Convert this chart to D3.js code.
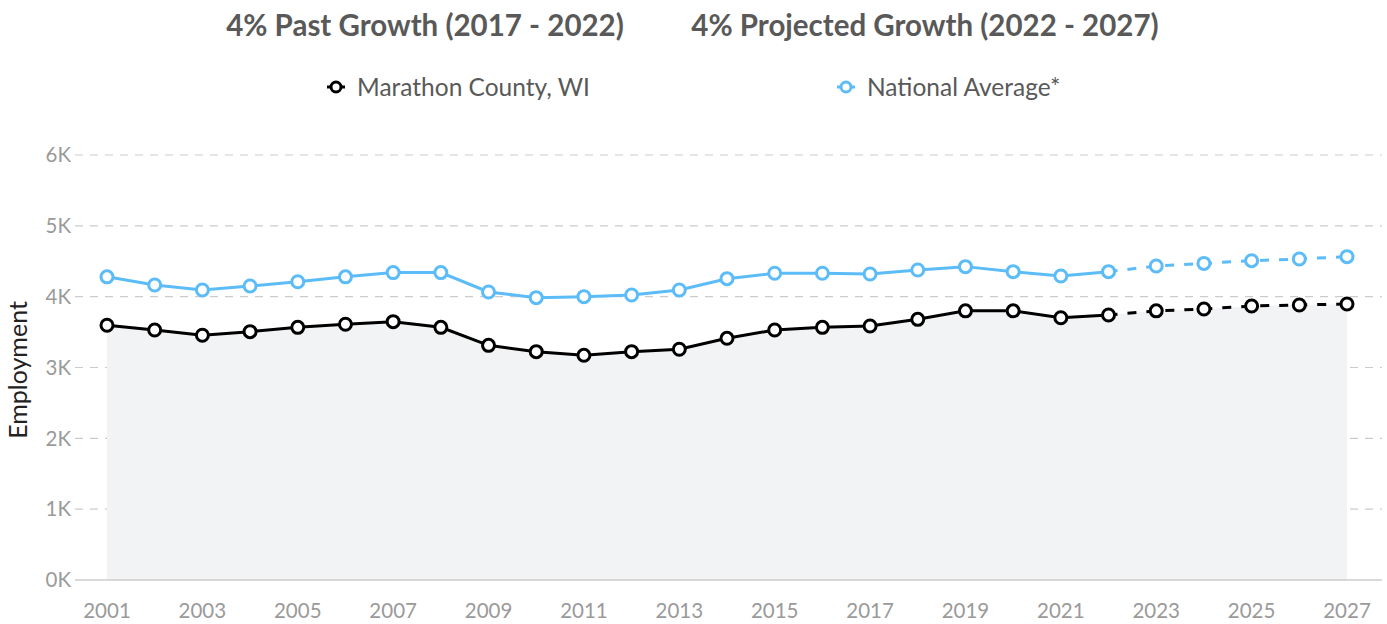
<!DOCTYPE html>
<html>
<head>
<meta charset="utf-8">
<script src="https://cdn.jsdelivr.net/npm/d3@7"></script>
<style>
  body { margin: 0; background: #fff; }
  #chart { width: 1387px; height: 624px; }
  text { font-family: Lato, "Open Sans", sans-serif; }
</style>
</head>
<body>
<div id="chart"></div>
<script>
// data
const years = d3.range(2001, 2028);
const lastActual = 2022;
const countyValues = [3596, 3530, 3455, 3506, 3567, 3610, 3647, 3567, 3313, 3224, 3172, 3224, 3257, 3412,
  3530, 3567, 3586, 3680, 3800, 3800, 3703, 3741, 3800, 3826, 3868, 3883, 3897];
const nationalValues = [4280, 4165, 4094, 4150, 4210, 4280, 4340, 4340, 4066, 3986, 4000, 4024, 4094, 4254,
  4330, 4330, 4320, 4377, 4424, 4353, 4292, 4353, 4433, 4470, 4508, 4532, 4565];
const yTicks = [0, 1000, 2000, 3000, 4000, 5000, 6000];
const xTicks = d3.range(2001, 2028, 2);
const titles = ["4% Past Growth (2017 - 2022)", "4% Projected Growth (2022 - 2027)"];
const seriesNames = ["Marathon County, WI", "National Average*"];

const width = 1387, height = 624;
const svg = d3.select("#chart").append("svg")
  .attr("width", width)
  .attr("height", height);

const x = d3.scaleLinear().domain([2001, 2027]).range([107, 1347]);
const y = d3.scaleLinear().domain([0, 6000]).range([580, 155]);

// titles
svg.selectAll(".title")
  .data(titles)
  .enter().append("text")
  .attr("x", (d, i) => i === 0 ? 425 : 925)
  .attr("y", 36)
  .attr("text-anchor", "middle")
  .attr("font-size", 29.5)
  .attr("font-weight", "bold")
  .attr("fill", "#595959")
  .text(d => d);

// legend
const colors = ["#000000", "#5cbcf8"];
const legend = svg.selectAll(".legend")
  .data(seriesNames)
  .enter().append("g")
  .attr("transform", (d, i) => `translate(${i === 0 ? 336 : 846}, 87)`);
legend.append("line")
  .attr("x1", -9).attr("x2", 9)
  .attr("stroke", (d, i) => colors[i])
  .attr("stroke-width", 3);
legend.append("circle")
  .attr("r", 5)
  .attr("fill", "#fff")
  .attr("stroke", (d, i) => colors[i])
  .attr("stroke-width", 3);
legend.append("text")
  .attr("x", 21)
  .attr("dy", "0.35em")
  .attr("font-size", 24.5)
  .attr("fill", "#595959")
  .text(d => d);

// grid
svg.selectAll(".grid")
  .data(yTicks.filter(d => d > 0))
  .enter().append("line")
  .attr("x1", 75).attr("x2", 1382)
  .attr("y1", d => y(d)).attr("y2", d => y(d))
  .attr("stroke", "#cccccc")
  .attr("stroke-width", 1.2)
  .attr("stroke-dasharray", "8,7");

// area under county line
const countyData = years.map((yr, i) => ({ year: yr, value: countyValues[i] }));
const nationalData = years.map((yr, i) => ({ year: yr, value: nationalValues[i] }));

svg.append("path")
  .datum(countyData)
  .attr("fill", "#f2f3f5")
  .attr("d", d3.area().x(d => x(d.year)).y0(y(0)).y1(d => y(d.value)));

svg.append("line")
  .attr("x1", 75).attr("x2", 1382)
  .attr("y1", y(0)).attr("y2", y(0))
  .attr("stroke", "#cccccc")
  .attr("stroke-width", 1.5);

// axis labels
svg.selectAll(".ylab")
  .data(yTicks)
  .enter().append("text")
  .attr("x", 71)
  .attr("y", d => y(d))
  .attr("dy", "0.35em")
  .attr("text-anchor", "end")
  .attr("font-size", 20.5)
  .attr("fill", "#9a9a9a")
  .text(d => (d / 1000) + "K");

svg.selectAll(".xlab")
  .data(xTicks)
  .enter().append("text")
  .attr("x", d => x(d))
  .attr("y", 618)
  .attr("text-anchor", "middle")
  .attr("font-size", 20.5)
  .attr("fill", "#9a9a9a")
  .text(d => d);

svg.append("text")
  .attr("transform", "translate(27, 370) rotate(-90)")
  .attr("text-anchor", "middle")
  .attr("font-size", 25)
  .attr("fill", "#222")
  .text("Employment");

// lines
const line = d3.line().x(d => x(d.year)).y(d => y(d.value));
[countyData, nationalData].forEach((data, i) => {
  const past = data.filter(d => d.year <= lastActual);
  const future = data.filter(d => d.year >= lastActual);
  svg.append("path").datum(past)
    .attr("fill", "none")
    .attr("stroke", colors[i])
    .attr("stroke-width", 3)
    .attr("d", line);
  svg.append("path").datum(future)
    .attr("fill", "none")
    .attr("stroke", colors[i])
    .attr("stroke-width", 3)
    .attr("stroke-dasharray", "9,10")
    .attr("d", line);
  svg.selectAll(null)
    .data(data)
    .enter().append("circle")
    .attr("cx", d => x(d.year))
    .attr("cy", d => y(d.value))
    .attr("r", 6)
    .attr("fill", "#fff")
    .attr("stroke", colors[i])
    .attr("stroke-width", 3);
});
</script>
</body>
</html>
